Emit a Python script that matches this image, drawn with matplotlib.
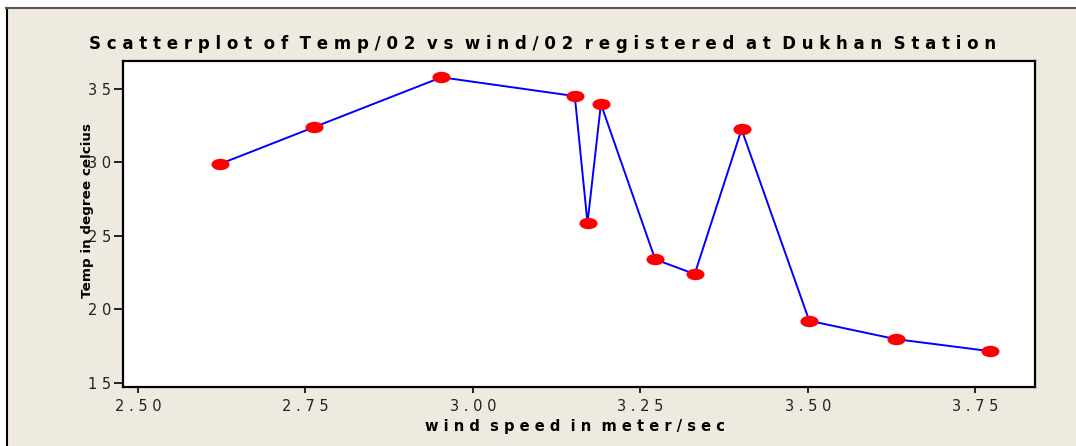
import matplotlib
matplotlib.use("Agg")
import matplotlib.pyplot as plt
from matplotlib.path import Path
from matplotlib.patches import Rectangle
from matplotlib.lines import Line2D
import matplotlib.transforms as mtransforms

# ---- data ----
wind = [2.622, 2.762, 2.953, 3.152, 3.171, 3.191, 3.272, 3.331, 3.401, 3.502, 3.631, 3.772]
temp = [29.89, 32.39, 35.80, 34.52, 25.87, 33.98, 23.40, 22.40, 32.25, 19.22, 17.97, 17.15]
xticks = [2.50, 2.75, 3.00, 3.25, 3.50, 3.75]
yticks = [15, 20, 25, 30, 35]
title = "Scatterplot of Temp/02 vs wind/02 registered at Dukhan Station"
xlabel = "wind speed in meter/sec"
ylabel = "Temp in degree celcius"

W, H = 1076, 446
BEIGE = "#EEEAE0"

def spaced(s, gap=" ", wordgap="  "):
    return wordgap.join(gap.join(w) for w in s.split(" "))

narrow = ["Liberation Sans Narrow", "DejaVu Sans"]

fig = plt.figure(figsize=(W / 100, H / 100), dpi=100)
fig.patch.set_facecolor("white")
fig.add_artist(Rectangle((7 / W, 0), 1, (H - 8) / H, transform=fig.transFigure,
                         facecolor=BEIGE, edgecolor="none", zorder=-10))
fig.add_artist(Line2D([6.5 / W, 6.5 / W], [0, (H - 8) / H], transform=fig.transFigure,
                      color="black", lw=1.5))
fig.add_artist(Line2D([6 / W, 1], [(H - 8) / H] * 2, transform=fig.transFigure,
                      color="#555555", lw=1.5))

ax = fig.add_axes([123 / W, (H - 387) / H, (1035 - 123) / W, (387 - 61) / H])
ax.set_facecolor("white")

ellipse = Path.unit_circle().transformed(mtransforms.Affine2D().scale(1.0, 0.6))
ax.plot(wind, temp, color="#0000FF", lw=1.4, zorder=2)
ax.plot(wind, temp, linestyle="none", marker=ellipse, markersize=12,
        markerfacecolor="#FF0000", markeredgecolor="#FF0000", zorder=3)

ax.set_xlim(2.4776, 3.839)
ax.set_ylim(14.71, 36.91)
ax.set_xticks(xticks)
ax.set_xticklabels([spaced(f"{v:.2f}") for v in xticks], fontsize=10.5, color="#222222")
ax.set_yticks(yticks)
ax.set_yticklabels([spaced(str(v)) for v in yticks], fontsize=10.5, color="#222222")
ax.tick_params(axis="x", length=4.5, width=1.2, pad=4)
ax.tick_params(axis="y", length=6.5, width=1.2, pad=2)
for s in ax.spines.values():
    s.set_linewidth(1.6)
    s.set_color("black")

ax.set_ylabel(ylabel, fontsize=9.7, fontweight="bold", family="DejaVu Sans", va="center")
ax.yaxis.set_label_coords((88 - 123) / 912, (387 - 210) / 326)

fig.text(543 / W, 1 - 44 / H, spaced(title), ha="center", va="center",
         fontsize=12, fontweight="bold", family=narrow)
fig.text(575 / W, 1 - 427 / H, spaced(xlabel), ha="center", va="center",
         fontsize=10.5, fontweight="bold", family=narrow)

fig.savefig("out.png", dpi=100, facecolor=fig.get_facecolor())
